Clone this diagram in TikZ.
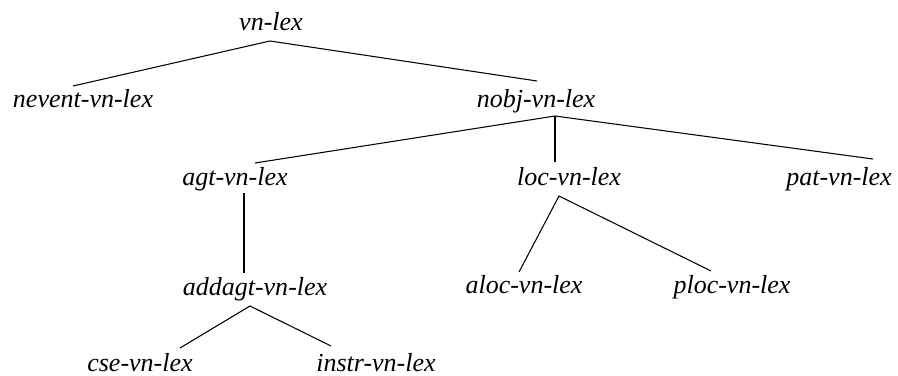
\documentclass[tikz,border=0pt]{standalone}
\usepackage{fontspec}
\newfontfamily\typefont{Liberation Serif}[UprightFont={* Italic}]
\usetikzlibrary{calc}
\tikzset{ % common look of the type names
	typename/.style={
		anchor=base, inner sep=0pt, % place the text by its baseline
		font=\typefont\fontsize{14.8}{17}\selectfont
	},
	branch/.style={line width=0.6pt}
}

\begin{document}
\begin{tikzpicture}[x=0.2mm,y=-0.2mm]
	\useasboundingbox (0,0) rectangle (898,376);
	% Types
	\node[typename] (vn) at (271,31) {vn-lex};
	\node[typename] (nevent) at (83,108) {nevent-vn-lex};
	\node[typename] (nobj) at (536,108) {nobj-vn-lex};
	\node[typename] (agt) at (235,186) {agt-vn-lex};
	\node[typename] (loc) at (569,185) {loc-vn-lex};
	\node[typename] (pat) at (839,185) {pat-vn-lex};
	\node[typename] (addagt) at (255,295) {addagt-vn-lex};
	\node[typename] (aloc) at (524,293) {aloc-vn-lex};
	\node[typename] (ploc) at (732,293) {ploc-vn-lex};
	\node[typename] (cse) at (140,371) {cse-vn-lex};
	\node[typename] (instr) at (376,371) {instr-vn-lex};
	% Branches
	\draw[branch] ($(nevent.base)+(-10,-22)$) -- ($(vn.base)+(-1,10)$) -- ($(nobj.base)+(1,-27)$);
	\draw[branch] ($(agt.base)+(20,-23)$) -- ($(nobj.base)+(19,8)$) -- ($(pat.base)+(34,-26)$);
	\draw[branch] ($(nobj.base)+(19,8)$) -- ($(loc.base)+(-14,-23)$);
	\draw[branch] ($(agt.base)+(9,7)$) -- ($(addagt.base)+(-11,-22)$);
	\draw[branch] ($(aloc.base)+(-5,-21)$) -- ($(loc.base)+(-10,11)$) -- ($(ploc.base)+(-21,-22)$);
	\draw[branch] ($(cse.base)+(40,-23)$) -- ($(addagt.base)+(-5,11)$) -- ($(instr.base)+(-45,-25)$);
\end{tikzpicture}
\end{document}
